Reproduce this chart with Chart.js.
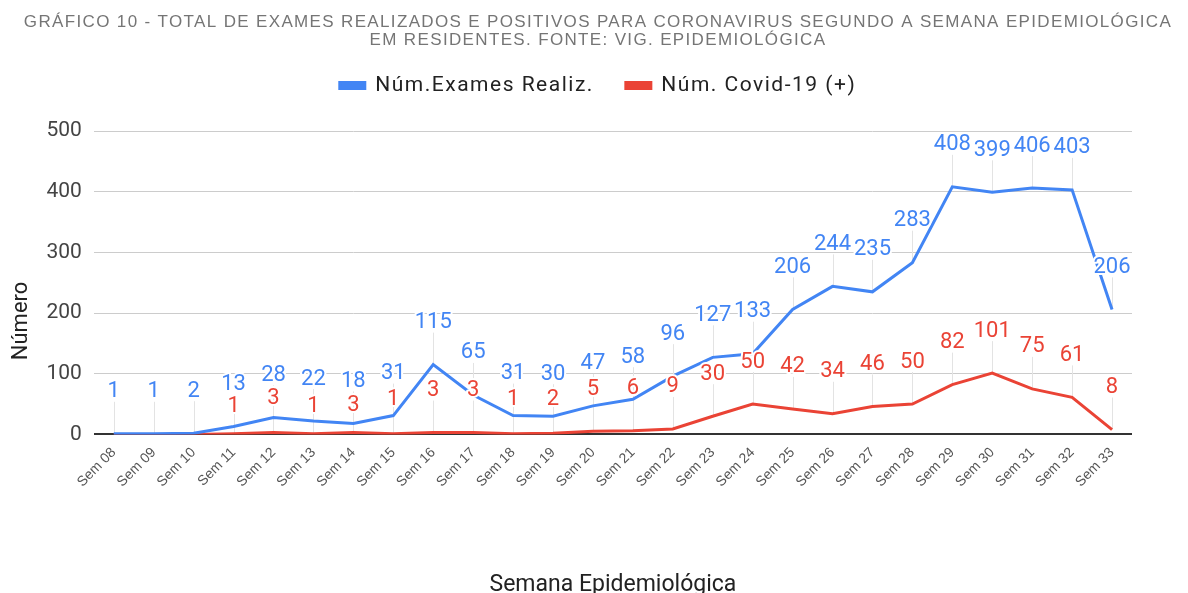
<!DOCTYPE html>
<html>
<head>
<meta charset="utf-8">
<script src="https://cdn.jsdelivr.net/npm/chart.js@4"></script>
<style>
  body { margin: 0; background: #fff; }
  canvas { display: block; }
</style>
</head>
<body>
<canvas id="lineChart" width="1188" height="593"></canvas>
<script>
const semanas = ['Sem 08', 'Sem 09', 'Sem 10', 'Sem 11', 'Sem 12', 'Sem 13', 'Sem 14', 'Sem 15', 'Sem 16',
  'Sem 17', 'Sem 18', 'Sem 19', 'Sem 20', 'Sem 21', 'Sem 22', 'Sem 23', 'Sem 24', 'Sem 25', 'Sem 26',
  'Sem 27', 'Sem 28', 'Sem 29', 'Sem 30', 'Sem 31', 'Sem 32', 'Sem 33'];
const examesRealizados = [1, 1, 2, 13, 28, 22, 18, 31, 115, 65, 31, 30, 47, 58, 96, 127, 133, 206, 244, 235, 283, 408, 399, 406, 403, 206];
const covidPositivos = [0, 0, 0, 1, 3, 1, 3, 1, 3, 3, 1, 2, 5, 6, 9, 30, 50, 42, 34, 46, 50, 82, 101, 75, 61, 8];
const yTicks = [0, 100, 200, 300, 400, 500];

const AZUL = '#4285f4';
const VERMELHO = '#ea4335';

// rotulos de dados estilo google sheets: acima do ponto, com linha guia
const rotulos = {
  id: 'rotulos',
  beforeDatasetsDraw(chart) {
    const ctx = chart.ctx;
    const caixas = chart.$caixas = [];
    ctx.save();
    ctx.font = '22px Roboto';
    chart.data.datasets.forEach((ds, di) => {
      const meta = chart.getDatasetMeta(di);
      const offsets = di === 0 ? [42] : [42, 34, 27];
      meta.data.forEach((pt, i) => {
        const txt = String(ds.data[i]);
        const w = ctx.measureText(txt).width;
        let achou = null;
        for (const off of offsets) {
          const c = { x1: pt.x - w / 2 - 1, x2: pt.x + w / 2 + 1, y1: pt.y - off - 10, y2: pt.y - off + 10 };
          const bate = caixas.some(b => c.x1 < b.x2 && c.x2 > b.x1 && c.y1 < b.y2 + 1 && c.y2 > b.y1 - 1);
          if (!bate) { achou = c; break; }
        }
        if (achou) {
          caixas.push(Object.assign(achou, { txt, x: pt.x, py: pt.y, cor: ds.borderColor }));
        }
      });
    });
    // linhas guia
    ctx.strokeStyle = '#e3e3e3';
    ctx.lineWidth = 1;
    caixas.forEach(b => {
      ctx.beginPath();
      ctx.moveTo(Math.round(b.x) + 0.5, b.py);
      ctx.lineTo(Math.round(b.x) + 0.5, b.y2);
      ctx.stroke();
    });
    ctx.restore();
  },
  afterDatasetsDraw(chart) {
    const ctx = chart.ctx;
    ctx.save();
    ctx.font = '22px Roboto';
    ctx.textAlign = 'center';
    ctx.textBaseline = 'middle';
    ctx.lineJoin = 'round';
    (chart.$caixas || []).forEach(b => {
      const y = (b.y1 + b.y2) / 2;
      ctx.strokeStyle = '#fff';
      ctx.lineWidth = 4;
      ctx.strokeText(b.txt, b.x, y);
      ctx.fillStyle = b.cor;
      ctx.fillText(b.txt, b.x, y);
    });
    ctx.restore();
  }
};

// titulo e legenda do original tem letras mais espacadas
function espacar(chart, box, esp) {
  if (!box) return;
  ['fit', 'draw'].forEach(fn => {
    if (typeof box[fn] !== 'function') return;
    const orig = box[fn].bind(box);
    box[fn] = function (...args) {
      chart.ctx.letterSpacing = esp;
      const r = orig(...args);
      chart.ctx.letterSpacing = '0px';
      return r;
    };
  });
}
const espacamento = {
  id: 'espacamento',
  afterInit(chart) {
    espacar(chart, chart.titleBlock, '1.35px');
    espacar(chart, chart.legend, '1.5px');
  }
};

const ctx = document.getElementById('lineChart').getContext('2d');

var myChart = new Chart(ctx, {
  type: 'line',
  data: {
    labels: semanas,
    datasets: [{
      label: 'Núm.Exames Realiz.',
      data: examesRealizados,
      borderColor: AZUL,
      backgroundColor: AZUL,
      borderWidth: 3,
      pointRadius: 0,
      tension: 0
    }, {
      label: 'Núm. Covid-19 (+)',
      data: covidPositivos,
      borderColor: VERMELHO,
      backgroundColor: VERMELHO,
      borderWidth: 3,
      pointRadius: 0,
      tension: 0
    }]
  },
  plugins: [espacamento, rotulos],
  options: {
    responsive: false,
    animation: false,
    devicePixelRatio: 1,
    layout: { padding: { left: 8, right: 0, top: 4, bottom: -6 } },
    plugins: {
      title: {
        display: true,
        text: ['GRÁFICO 10 - TOTAL DE EXAMES REALIZADOS E POSITIVOS PARA CORONAVIRUS SEGUNDO A SEMANA EPIDEMIOLÓGICA',
               'EM RESIDENTES. FONTE: VIG. EPIDEMIOLÓGICA'],
        color: '#757575',
        font: { family: '"Liberation Sans", Arial', size: 17, weight: 'normal', lineHeight: 1.06 },
        padding: { top: 9, bottom: -6 }
      },
      // espaco entre legenda e area do grafico
      subtitle: {
        display: true,
        text: '',
        weight: 500,
        font: { size: 1, lineHeight: 1 },
        padding: { top: 0, bottom: 24 }
      },
      legend: {
        labels: {
          boxWidth: 25,
          boxHeight: 6,
          padding: 32,
          color: '#222',
          font: { family: 'Roboto', size: 21 }
        }
      },
      tooltip: { enabled: false }
    },
    scales: {
      x: {
        offset: true,
        grid: { display: false },
        border: { display: false },
        ticks: {
          autoSkip: false,
          minRotation: 45,
          maxRotation: 45,
          color: '#555',
          font: { family: '"Liberation Sans", Arial', size: 14 },
          padding: 2
        },
        title: {
          display: true,
          text: 'Semana Epidemiológica',
          color: '#222',
          font: { family: 'Roboto', size: 23 },
          padding: { top: 79, bottom: 0 }
        }
      },
      y: {
        min: 0,
        max: 500,
        afterBuildTicks(axis) { axis.ticks = yTicks.map(v => ({ value: v })); },
        border: { display: false },
        grid: {
          drawTicks: false,
          color: c => c.tick && c.tick.value === 0 ? '#333' : '#cccccc',
          lineWidth: c => c.tick && c.tick.value === 0 ? 2 : 1
        },
        ticks: {
          color: '#444',
          font: { family: 'Roboto', size: 21 },
          padding: 12
        },
        title: {
          display: true,
          // espacos no fim descem o texto como no original
          text: 'Número' + ' '.repeat(14),
          color: '#222',
          font: { family: 'Roboto', size: 22 },
          padding: { top: 0, bottom: 0 }
        }
      },
      // eixo vazio a direita, so para a margem
      margemDireita: {
        type: 'linear',
        position: 'right',
        grid: { display: false },
        border: { display: false },
        ticks: { display: false },
        afterFit(scale) { scale.width = 56; }
      }
    }
  }
});
</script>
</body>
</html>
